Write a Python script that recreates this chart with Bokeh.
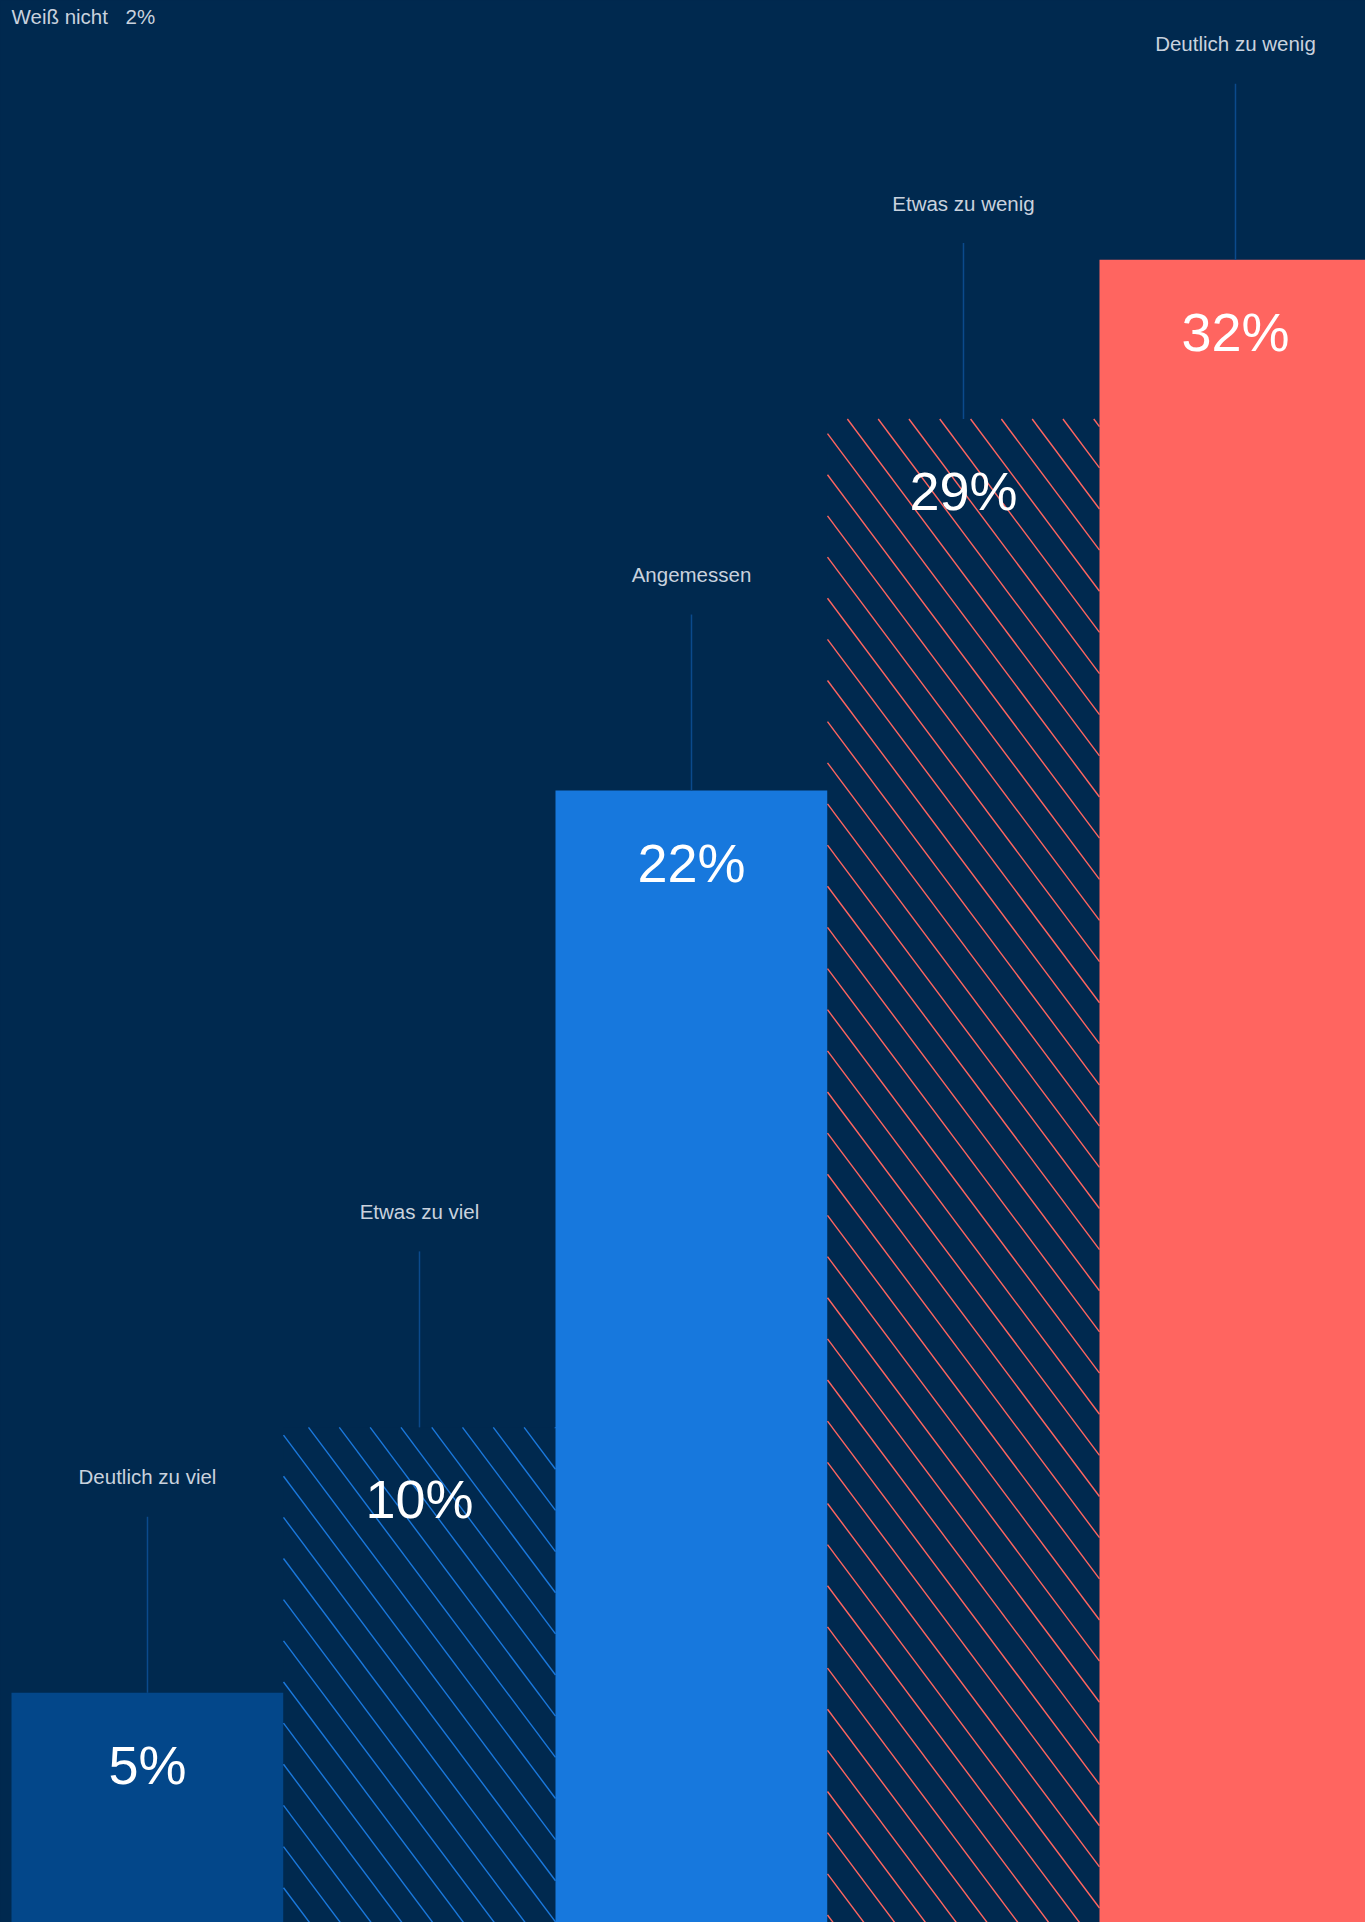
from bokeh.plotting import figure
from bokeh.models import ColumnDataSource, Range1d, Label, GlobalInlineStyleSheet
from bokeh.core.properties import value
from bokeh.embed import file_html
from bokeh.resources import INLINE

# ---- data ----
categories = ["Deutlich zu viel", "Etwas zu viel", "Angemessen", "Etwas zu wenig", "Deutlich zu wenig"]
values = [5, 10, 22, 29, 32]
value_labels = ["5%", "10%", "22%", "29%", "32%"]
dont_know_label = "Weiß nicht"
dont_know_value = 2

# ---- styles ----
BG = "#00294F"
fill_colors = ["#03478A", BG, "#1778DD", BG, "#FF6560"]
hatched = [False, True, False, True, False]
hatch_colors = ["#1A78DC", "#1A78DC", "#FF6560", "#FF6560", "#FF6560"]
LABEL_COLOR = "#C9D2DE"
LEADER_COLOR = "#0B4A8C"
FONT = "Liberation Sans"
HATCH_SPACING = 30.8      # horizontal px between hatch lines
HATCH_SLOPE = 1.336       # screen dy/dx (down-right)
HATCH_PHASE = 10.0

W, H = 1365, 1922
X0, X1 = -0.5404, 4.478
Y0, Y1 = 0.671, 36.886
px_per_x = W / (X1 - X0)
px_per_y = H / (Y1 - Y0)


def sx(x):
    return (x - X0) * px_per_x


def sy(y):
    return (Y1 - y) * px_per_y


def dx(xs_):
    return X0 + xs_ / px_per_x


def dy(ys_):
    return Y1 - ys_ / px_per_y


xs = list(range(len(categories)))
leader_len = 176 / px_per_y

src = ColumnDataSource(dict(
    x=xs, top=values, cat=categories, lab=value_labels,
    fill=fill_colors,
    ly0=values, ly1=[v + leader_len for v in values],
))

# hatch line segments, clipped to each hatched bar
hx0, hy0, hx1, hy1, hc = [], [], [], [], []
m = HATCH_SLOPE
for i, v in enumerate(values):
    if not hatched[i]:
        continue
    L, R = sx(i - 0.5), sx(i + 0.5)
    T, B = sy(v), sy(0)
    n0 = int((L - B / m - HATCH_PHASE) // HATCH_SPACING) - 1
    n1 = int((R - T / m - HATCH_PHASE) // HATCH_SPACING) + 1
    for n in range(n0, n1 + 1):
        c = HATCH_PHASE + n * HATCH_SPACING
        ya = max(T, (L - c) * m)
        yb = min(B, (R - c) * m)
        if yb <= ya:
            continue
        hx0.append(dx(c + ya / m)); hy0.append(dy(ya))
        hx1.append(dx(c + yb / m)); hy1.append(dy(yb))
        hc.append(hatch_colors[i])

hsrc = ColumnDataSource(dict(x0=hx0, y0=hy0, x1=hx1, y1=hy1, c=hc))

p = figure(width=W, height=H, x_range=Range1d(X0, X1), y_range=Range1d(Y0, Y1),
           output_backend="svg", toolbar_location=None, min_border=0,
           background_fill_color=BG, border_fill_color=BG)
p.axis.visible = False
p.grid.visible = False
p.outline_line_color = None

p.vbar(x="x", top="top", bottom=0, width=1.0, source=src,
       fill_color="fill", line_color=None)

p.segment(x0="x0", y0="y0", x1="x1", y1="y1", source=hsrc,
          line_color="c", line_width=1.4)

p.segment(x0="x", y0="ly0", x1="x", y1="ly1", source=src,
          line_color=LEADER_COLOR, line_width=1.5)

p.text(x="x", y="top", text="cat", source=src, y_offset=-216,
       text_align="center", text_baseline="middle",
       text_font=value(FONT), text_font_size="20.5px", text_color=LABEL_COLOR)

p.text(x="x", y="top", text="lab", source=src, y_offset=72,
       text_align="center", text_baseline="middle",
       text_font=value(FONT), text_font_size="54px", text_color="#FFFFFF")

p.add_layout(Label(x=X0 + 11 / px_per_x, y=Y1 - 16 / px_per_y, text=dont_know_label,
                   text_baseline="middle", text_align="left",
                   text_font=FONT, text_font_size="20.5px", text_color=LABEL_COLOR))
p.add_layout(Label(x=X0 + 125 / px_per_x, y=Y1 - 16 / px_per_y, text=f"{dont_know_value}%",
                   text_baseline="middle", text_align="left",
                   text_font=FONT, text_font_size="20.5px", text_color=LABEL_COLOR))

p.stylesheets = [GlobalInlineStyleSheet(
    css="html, body {margin:0; padding:0; background:#00294F; overflow:hidden;}")]

open("out.html", "w").write(file_html(p, INLINE))
